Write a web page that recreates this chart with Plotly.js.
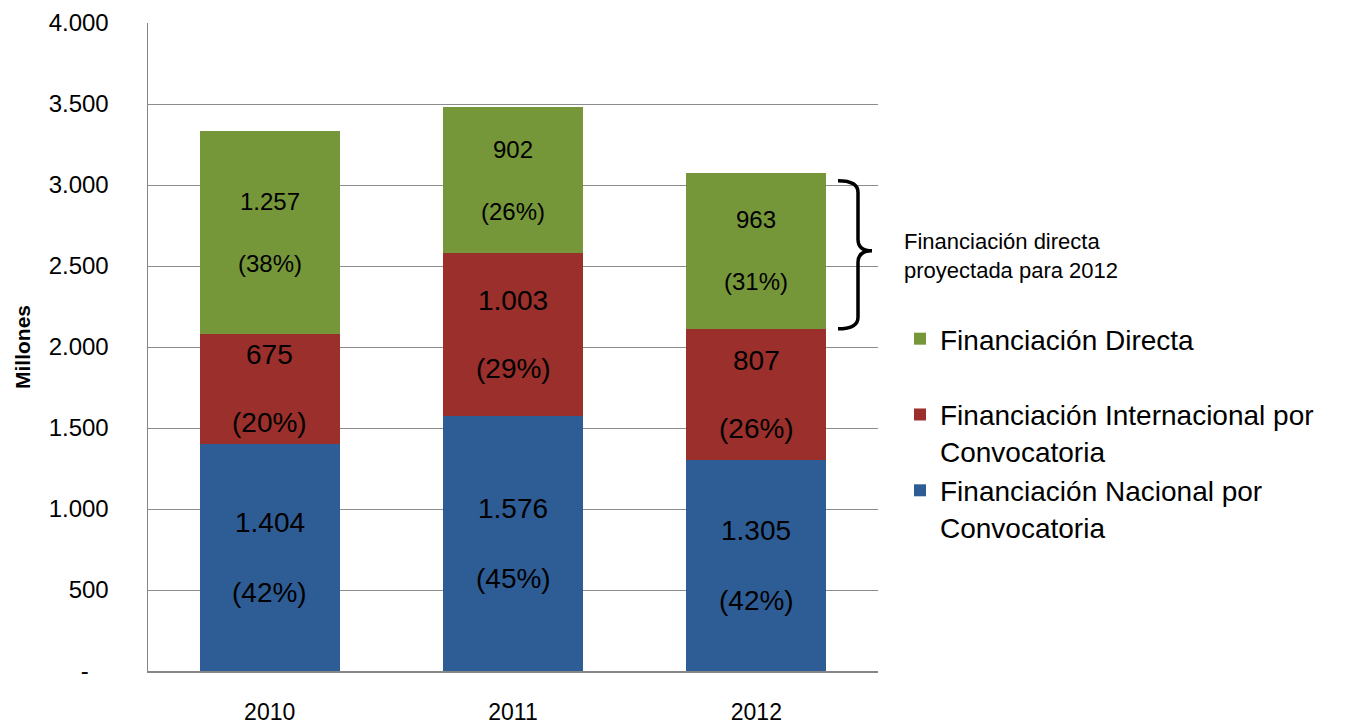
<!DOCTYPE html>
<html>
<head>
<meta charset="utf-8">
<script src="https://cdn.plot.ly/plotly-3.0.1.min.js"></script>
<style>html,body{margin:0;padding:0;background:#fff;}#chart{width:1364px;height:724px;}</style>
</head>
<body>
<div id="chart"></div>
<script>
// ---- data ----
var years = ['2010', '2011', '2012'];
var nacional = [1404, 1576, 1305];
var internacional = [675, 1003, 807];
var directa = [1257, 902, 963];
var seriesNames = [
  'Financiación Nacional por<br>Convocatoria',
  'Financiación Internacional por<br>Convocatoria',
  'Financiación Directa<br> '
];
var yTickVals = [0, 500, 1000, 1500, 2000, 2500, 3000, 3500, 4000];
var yTickText = ['-\u00a0\u00a0\u00a0', '500', '1.000', '1.500', '2.000', '2.500', '3.000', '3.500', '4.000'];
var bracketText = 'Financiación directa<br>proyectada para 2012';

// ---- helpers ----
var FONT = 'Liberation Sans, Arial, sans-serif';
var colors = ['#2E5D96', '#9A2F2C', '#76963A'];
function fmt(v) { return String(v).replace(/\B(?=(\d{3})+(?!\d))/g, '.'); }

var series = [nacional, internacional, directa];
var totals = years.map(function (_, i) { return nacional[i] + internacional[i] + directa[i]; });

var traces = series.map(function (vals, s) {
  return {
    type: 'bar', x: years, y: vals, name: seriesNames[s],
    marker: { color: colors[s], line: { width: 0 } },
    hoverinfo: 'none'
  };
});

var annotations = [];
var labelSize = [28, 28, 24];
var labelShift = [35, 34, 31];
years.forEach(function (yr, i) {
  var base = 0;
  series.forEach(function (vals, s) {
    var mid = base + vals[i] / 2;
    var pct = Math.round(vals[i] / totals[i] * 100);
    annotations.push({ x: i, y: mid, xref: 'x', yref: 'y', text: fmt(vals[i]), showarrow: false,
      yshift: labelShift[s], font: { family: FONT, size: labelSize[s], color: '#000' } });
    annotations.push({ x: i, y: mid, xref: 'x', yref: 'y', text: '(' + pct + '%)', showarrow: false,
      yshift: -labelShift[s], font: { family: FONT, size: labelSize[s], color: '#000' } });
    base += vals[i];
  });
});

// bracket for 2012 direct financing
var yMax = 4000;
var L = 148, W = 730;
function px(p) { return (p - L) / W; }
var top2012 = totals[2] / yMax;
var bot2012 = (nacional[2] + internacional[2]) / yMax;
var mid2012 = (top2012 + bot2012) / 2;
var r = 0.018;
var x0 = px(838), xv = px(858), xp = px(872);
var path = 'M' + x0 + ',' + (top2012 - 0.012) +
  ' Q' + xv + ',' + (top2012 - 0.012) + ' ' + xv + ',' + (top2012 - 0.012 - r) +
  ' L' + xv + ',' + (mid2012 + r) +
  ' Q' + xv + ',' + mid2012 + ' ' + xp + ',' + mid2012 +
  ' Q' + xv + ',' + mid2012 + ' ' + xv + ',' + (mid2012 - r) +
  ' L' + xv + ',' + (bot2012 + r) +
  ' Q' + xv + ',' + bot2012 + ' ' + x0 + ',' + bot2012;

annotations.push({ x: px(902), y: mid2012, xref: 'paper', yref: 'paper', xanchor: 'left', yanchor: 'middle',
  yshift: -5, align: 'left', text: bracketText, showarrow: false, font: { family: FONT, size: 22, color: '#000' } });

var layout = {
  width: 1364, height: 724,
  margin: { l: 148, r: 486, t: 23, b: 53, pad: 0 },
  paper_bgcolor: '#fff', plot_bgcolor: '#fff',
  barmode: 'stack', bargap: 0.425,
  font: { family: FONT, color: '#000' },
  separators: ',.',
  showlegend: true,
  legend: {
    x: px(900), y: (671 - 314) / 648, xanchor: 'left', yanchor: 'top',
    traceorder: 'reversed', valign: 'top', tracegroupgap: 0,
    font: { family: FONT, size: 28, color: '#000' }, bgcolor: 'rgba(0,0,0,0)'
  },
  xaxis: {
    type: 'category', categoryorder: 'array', categoryarray: years, range: [-0.5, 2.5],
    showline: true, linecolor: '#868686', linewidth: 1.5, ticks: '', showgrid: false, zeroline: false,
    tickfont: { family: FONT, size: 23, color: '#000' }, ticklabelstandoff: 20
  },
  yaxis: {
    range: [0, yMax], tickmode: 'array', tickvals: yTickVals, ticktext: yTickText,
    showline: true, linecolor: '#868686', linewidth: 1.5, ticks: '', showgrid: true, gridcolor: '#8C8C8C', gridwidth: 1,
    zeroline: false, tickfont: { family: FONT, size: 24, color: '#000' }, ticklabelstandoff: 33,
    title: { text: '<b>Millones</b>', font: { family: FONT, size: 21, color: '#000' }, standoff: 12 }
  },
  shapes: [{ type: 'path', xref: 'paper', yref: 'paper', path: path, line: { color: '#000', width: 3.5 } }],
  annotations: annotations
};

Plotly.newPlot('chart', traces, layout, { displayModeBar: false, staticPlot: true });
</script>
</body>
</html>
